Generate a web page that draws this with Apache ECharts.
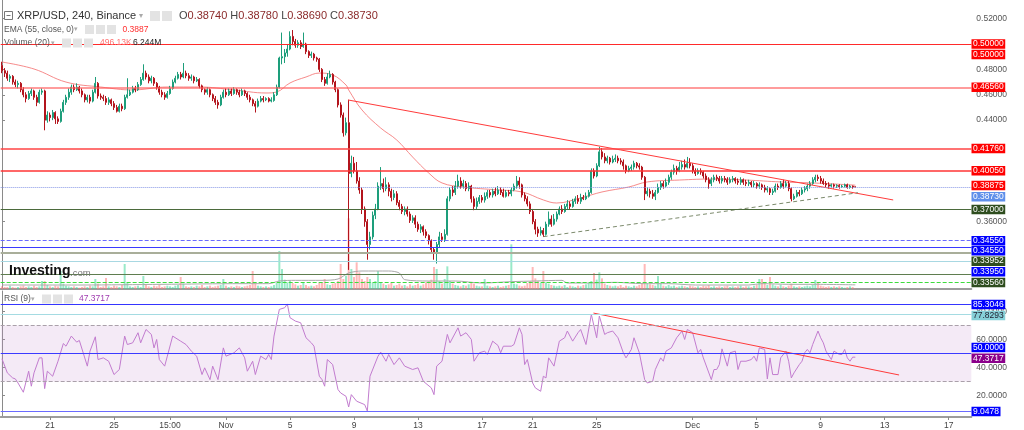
<!DOCTYPE html>
<html><head><meta charset="utf-8">
<script src="https://cdn.jsdelivr.net/npm/echarts@6/dist/echarts.min.js"></script>
<style>html,body{margin:0;padding:0;background:#fff}#c{width:1024px;height:430px}</style>
</head><body><div id="c"></div>
<script>
// ---------------- DATA ----------------
const N_SLOTS = 364; // 4h slots on the time axis (incl. empty future space)
const tickLabels = {18:'21',42:'25',63:'15:00',84:'Nov',108:'5',132:'9',156:'13',180:'17',199:'21',223:'25',259:'Dec',283:'5',307:'9',331:'13',355:'17'};
// [open, close, low, high]
const ohlc = [
[.4830,.4790,.4770,.4860],[.4790,.4770,.4740,.4810],[.4770,.4730,.4710,.4790],[.4730,.4745,.4700,.4760],[.4745,.4700,.4680,.4755],
[.4700,.4680,.4660,.4720],[.4680,.4690,.4650,.4710],[.4690,.4640,.4620,.4700],[.4640,.4600,.4580,.4660],[.4600,.4570,.4540,.4620],
[.4570,.4610,.4560,.4630],[.4610,.4630,.4590,.4650],[.4630,.4580,.4560,.4640],[.4580,.4540,.4510,.4600],[.4540,.4620,.4530,.4640],
[.4620,.4630,.4600,.4650],[.4630,.4400,.4320,.4640],[.4400,.4440,.4380,.4470],[.4440,.4420,.4390,.4460],[.4420,.4460,.4400,.4480],
[.4460,.4410,.4370,.4470],[.4410,.4390,.4370,.4430],[.4390,.4470,.4380,.4490],[.4470,.4540,.4460,.4560],[.4540,.4580,.4520,.4600],
[.4580,.4620,.4560,.4650],[.4620,.4660,.4600,.4680],[.4660,.4640,.4620,.4680],[.4640,.4660,.4630,.4690],[.4660,.4630,.4610,.4670],
[.4630,.4600,.4580,.4650],[.4600,.4560,.4540,.4610],[.4560,.4580,.4540,.4600],[.4580,.4550,.4530,.4600],[.4550,.4620,.4540,.4640],
[.4620,.4690,.4610,.4740],[.4690,.4590,.4570,.4700],[.4590,.4580,.4560,.4610],[.4580,.4570,.4550,.4600],[.4570,.4540,.4520,.4590],
[.4540,.4560,.4520,.4580],[.4560,.4530,.4510,.4570],[.4530,.4500,.4480,.4550],[.4500,.4470,.4460,.4520],[.4470,.4510,.4460,.4530],
[.4510,.4490,.4470,.4530],[.4490,.4580,.4480,.4600],[.4580,.4600,.4570,.4730],[.4600,.4620,.4590,.4640],[.4620,.4650,.4610,.4670],
[.4650,.4640,.4620,.4670],[.4640,.4680,.4630,.4700],[.4680,.4720,.4670,.4740],[.4720,.4770,.4710,.4840],[.4770,.4740,.4720,.4790],
[.4740,.4710,.4690,.4760],[.4710,.4730,.4690,.4750],[.4730,.4690,.4670,.4740],[.4690,.4660,.4640,.4700],[.4660,.4620,.4600,.4670],
[.4620,.4600,.4580,.4640],[.4600,.4580,.4560,.4620],[.4580,.4610,.4570,.4630],[.4610,.4650,.4600,.4670],[.4650,.4700,.4640,.4720],
[.4700,.4730,.4690,.4750],[.4730,.4760,.4720,.4780],[.4760,.4740,.4720,.4780],[.4740,.4770,.4730,.4850],[.4770,.4750,.4730,.4790],
[.4750,.4730,.4710,.4770],[.4730,.4740,.4710,.4760],[.4740,.4710,.4690,.4750],[.4710,.4720,.4700,.4740],[.4720,.4670,.4650,.4730],
[.4670,.4640,.4620,.4680],[.4640,.4620,.4600,.4650],[.4620,.4640,.4600,.4660],[.4640,.4600,.4580,.4650],[.4600,.4570,.4550,.4610],
[.4570,.4540,.4520,.4590],[.4540,.4520,.4490,.4560],[.4520,.4580,.4510,.4600],[.4580,.4620,.4570,.4640],[.4620,.4600,.4580,.4650],
[.4600,.4630,.4590,.4650],[.4630,.4610,.4590,.4650],[.4610,.4640,.4600,.4660],[.4640,.4620,.4600,.4650],[.4620,.4600,.4580,.4640],
[.4600,.4630,.4590,.4650],[.4630,.4610,.4590,.4640],[.4610,.4580,.4560,.4620],[.4580,.4560,.4540,.4600],[.4560,.4530,.4510,.4570],
[.4530,.4510,.4460,.4550],[.4510,.4550,.4500,.4570],[.4550,.4570,.4540,.4590],[.4570,.4560,.4540,.4590],[.4560,.4570,.4550,.4580],
[.4570,.4550,.4540,.4580],[.4550,.4560,.4540,.4580],[.4555,.4600,.4545,.4620],[.4600,.4660,.4590,.4680],[.4660,.4890,.4650,.4900],
[.4890,.4900,.4840,.5090],[.4900,.4930,.4850,.4960],[.4930,.4960,.4900,.5000],[.4960,.5060,.4950,.5100],[.5060,.5020,.4990,.5110],
[.5020,.4990,.4970,.5040],[.4990,.5010,.4970,.5030],[.5010,.4980,.4960,.5030],[.4980,.5000,.4970,.5090],[.5000,.4940,.4920,.5010],
[.4940,.4910,.4890,.4950],[.4910,.4920,.4890,.4940],[.4920,.4890,.4870,.4930],[.4890,.4880,.4860,.4900],[.4880,.4800,.4780,.4890],
[.4800,.4720,.4700,.4810],[.4720,.4690,.4670,.4740],[.4690,.4740,.4680,.4770],[.4740,.4760,.4730,.4790],[.4760,.4700,.4680,.4770],
[.4700,.4640,.4620,.4710],[.4640,.4520,.4500,.4650],[.4520,.4440,.4420,.4540],[.4440,.4300,.4270,.4460],[.4300,.4380,.4280,.4420],
[.4380,.3980,.3220,.4560],[.3980,.4060,.3950,.4120],[.4060,.4000,.3980,.4110],[.4000,.3920,.3900,.4070],[.3920,.3850,.3820,.3950],
[.3850,.3700,.3660,.3870],[.3700,.3600,.3560,.3720],[.3600,.3420,.3300,.3620],[.3420,.3480,.3380,.3520],[.3480,.3650,.3460,.3680],
[.3650,.3700,.3620,.3740],[.3700,.3880,.3690,.3910],[.3880,.3900,.3850,.4030],[.3900,.3860,.3830,.3940],[.3860,.3890,.3840,.3950],
[.3890,.3840,.3800,.3910],[.3840,.3790,.3760,.3860],[.3790,.3820,.3770,.3850],[.3820,.3750,.3730,.3840],[.3750,.3720,.3690,.3770],
[.3720,.3680,.3660,.3740],[.3680,.3700,.3650,.3720],[.3700,.3660,.3640,.3720],[.3660,.3610,.3590,.3680],[.3610,.3630,.3590,.3650],
[.3630,.3580,.3550,.3650],[.3580,.3540,.3520,.3600],[.3540,.3560,.3510,.3580],[.3560,.3520,.3490,.3570],[.3520,.3490,.3470,.3540],
[.3490,.3450,.3420,.3500],[.3450,.3380,.3350,.3460],[.3380,.3350,.3300,.3400],[.3350,.3420,.3270,.3440],[.3420,.3480,.3400,.3520],
[.3480,.3460,.3440,.3510],[.3460,.3500,.3440,.3540],[.3500,.3780,.3490,.3800],[.3780,.3850,.3760,.3870],[.3850,.3830,.3800,.3880],
[.3830,.3880,.3810,.3920],[.3880,.3920,.3860,.3970],[.3920,.3880,.3860,.3950],[.3880,.3900,.3860,.3930],[.3900,.3860,.3840,.3920],
[.3860,.3880,.3840,.3910],[.3880,.3780,.3750,.3890],[.3780,.3720,.3690,.3800],[.3720,.3760,.3700,.3790],[.3760,.3790,.3740,.3810],
[.3790,.3770,.3750,.3810],[.3770,.3800,.3750,.3830],[.3800,.3830,.3780,.3850],[.3830,.3810,.3790,.3850],[.3810,.3840,.3790,.3860],
[.3840,.3820,.3800,.3870],[.3820,.3850,.3810,.3880],[.3850,.3830,.3810,.3870],[.3830,.3800,.3790,.3860],[.3800,.3830,.3790,.3850],
[.3830,.3820,.3800,.3850],[.3820,.3850,.3800,.3870],[.3850,.3880,.3840,.3900],[.3880,.3920,.3860,.3960],[.3920,.3890,.3860,.3950],
[.3890,.3810,.3790,.3900],[.3810,.3780,.3760,.3830],[.3780,.3740,.3720,.3800],[.3740,.3680,.3660,.3760],[.3680,.3600,.3580,.3700],
[.3600,.3540,.3500,.3620],[.3540,.3510,.3480,.3560],[.3510,.3530,.3490,.3560],[.3530,.3500,.3480,.3550],[.3500,.3580,.3490,.3600],
[.3580,.3620,.3560,.3680],[.3620,.3580,.3560,.3650],[.3580,.3620,.3570,.3660],[.3620,.3660,.3600,.3680],[.3660,.3700,.3650,.3720],
[.3700,.3680,.3660,.3730],[.3680,.3720,.3670,.3740],[.3720,.3740,.3700,.3770],[.3740,.3720,.3700,.3760],[.3720,.3760,.3710,.3780],
[.3760,.3780,.3740,.3800],[.3780,.3760,.3740,.3810],[.3760,.3790,.3740,.3820],[.3790,.3780,.3770,.3810],[.3780,.3800,.3770,.3830],
[.3800,.3830,.3790,.3850],[.3830,.4000,.3820,.4020],[.4000,.3960,.3940,.4020],[.3960,.4040,.3950,.4060],[.4040,.4150,.4030,.4190],
[.4150,.4110,.4090,.4180],[.4110,.4080,.4060,.4140],[.4080,.4100,.4060,.4120],[.4100,.4070,.4050,.4110],[.4070,.4090,.4060,.4120],
[.4090,.4100,.4070,.4130],[.4100,.4080,.4060,.4120],[.4080,.4070,.4050,.4100],[.4070,.4040,.4010,.4090],[.4040,.4000,.3980,.4050],
[.4000,.4020,.3990,.4040],[.4020,.4030,.4000,.4050],[.4030,.4060,.4010,.4080],[.4060,.4040,.4020,.4070],[.4040,.4030,.4010,.4060],
[.4030,.3950,.3930,.4040],[.3950,.3820,.3770,.3960],[.3820,.3840,.3800,.3870],[.3840,.3820,.3790,.3860],[.3820,.3800,.3780,.3850],
[.3800,.3830,.3770,.3850],[.3830,.3870,.3820,.3900],[.3870,.3900,.3850,.3920],[.3900,.3880,.3860,.3920],[.3880,.3910,.3870,.3940],
[.3910,.3950,.3890,.3970],[.3950,.3990,.3930,.4010],[.3990,.4020,.3970,.4050],[.4020,.4000,.3970,.4040],[.4000,.4030,.3990,.4070],
[.4030,.4050,.4010,.4080],[.4050,.4030,.4010,.4090],[.4030,.4060,.4020,.4110],[.4060,.4040,.4020,.4100],[.4040,.4000,.3980,.4060],
[.4000,.3980,.3960,.4020],[.3980,.4000,.3970,.4020],[.4000,.3990,.3970,.4020],[.3990,.3960,.3940,.4000],[.3960,.3930,.3910,.3980],
[.3930,.3900,.3860,.3950],[.3900,.3930,.3880,.3950],[.3930,.3950,.3910,.3970],[.3950,.3940,.3920,.3970],[.3940,.3920,.3900,.3960],
[.3920,.3940,.3900,.3960],[.3940,.3930,.3910,.3960],[.3930,.3910,.3890,.3950],[.3910,.3930,.3900,.3950],[.3930,.3940,.3910,.3960],
[.3940,.3920,.3900,.3950],[.3920,.3910,.3890,.3940],[.3910,.3930,.3890,.3950],[.3930,.3910,.3890,.3940],[.3910,.3900,.3880,.3930],
[.3900,.3910,.3880,.3930],[.3910,.3890,.3870,.3920],[.3890,.3900,.3870,.3920],[.3900,.3880,.3860,.3910],[.3880,.3890,.3860,.3910],
[.3890,.3870,.3850,.3900],[.3870,.3850,.3830,.3890],[.3850,.3860,.3830,.3880],[.3860,.3830,.3810,.3870],[.3830,.3840,.3810,.3860],
[.3840,.3880,.3830,.3900],[.3880,.3870,.3850,.3900],[.3870,.3900,.3860,.3920],[.3900,.3880,.3860,.3930],[.3880,.3900,.3870,.3920],
[.3900,.3860,.3840,.3920],[.3860,.3780,.3760,.3870],[.3780,.3800,.3770,.3820],[.3800,.3830,.3790,.3850],[.3830,.3820,.3800,.3850],
[.3820,.3850,.3810,.3870],[.3850,.3860,.3830,.3880],[.3860,.3880,.3840,.3900],[.3880,.3900,.3860,.3920],[.3900,.3930,.3890,.3950],
[.3930,.3950,.3910,.3970],[.3950,.3940,.3920,.3970],[.3940,.3920,.3900,.3960],[.3920,.3900,.3890,.3940],[.3900,.3890,.3870,.3920],
[.3890,.3880,.3860,.3910],[.3880,.3890,.3870,.3900],[.3890,.3880,.3860,.3900],[.3880,.3885,.3865,.3895],[.3885,.3875,.3860,.3895],
[.3875,.3880,.3865,.3890],[.3880,.3890,.3870,.3900],[.3890,.3870,.3860,.3900],[.3870,.3880,.3860,.3890],[.3880,.3874,.3860,.3885],
[.3874,.3873,.3869,.3878]
];
// volume, millions
const volume = [
4,3,3,5,3,2,3,4,5,3, 4,3,5,3,4,12,12,6,4,3, 5,4,27,8,5,4,3,4,3,2, 3,4,3,5,4,15,8,3,4,16.5,
4,3,5,4,3,6,37.5,10,4,3, 4,5,3,19.5,6,4,3,5,4,6, 3,4,5,4,3,5,6,18,8,4, 3,4,3,5,4,6,3,4,5,3,
4,5,6,15,5,3,4,3,5,4, 3,4,5,6,27,9,5,4,3,4, 3,4,6,9,57,30,14,10,12,9, 7,5,6,10,6,4,5,4,6,9,
10,15,7,6,8,9,12,37.5,15,20, 106,30,18,40,25,15,12,18,15,10, 12,27,10,8,6,7,9,5,6,8, 5,6,4,7,5,6,8,5,7,10,
12,14,33,30,12,8,15,34,12,8, 6,5,4,6,5,7,9,8,5,4, 4,15,5,4,3,4,5,3,4,5, 6,67,8,7,5,4,5,9,12,33,
16,12,9,27,10,8,6,5,4,5, 4,6,3,5,4,3,5,4,6,7, 9,12,24,14,25,16,8,6,5,4, 5,4,6,3,5,4,3,5,4,6,
9,37.5,8,7,6,5,19.5,8,5,4, 6,4,5,3,4,5,4,3,5,4, 3,4,3,5,4,6,3,4,3,4, 3,4,5,3,4,3,4,5,3,4,
4,3,5,6,15,15,9,6,18,7, 5,4,6,4,3,5,8,4,3,4, 3,4,5,4,6,13.5,9,5,4,3, 4,3,4,3,4,3,2,3,4,3,0.496
];
const volumeMA = [[0,6],[30,6],[60,7],[90,8],[100,8],[104,12],[110,13],[120,13],[126,15],[130,24],[135,27],[145,27],[149,24],[151,14],[160,12],[170,12],[180,9],[191,11],[200,12],[210,13],[212,9],[220,9],[230,10],[240,8],[250,8],[260,6],[280,6],[285,8],[295,7],[305,7],[320,6.244]];
const ema = [[0,.4858],[12,.4803],[24,.4700],[37,.4661],[49,.4638],[62,.4661],[74,.4661],[87,.4638],[99,.4614],[103,.4622],[108,.4693],[114,.4740],[119,.4771],[124,.4756],[129,.4677],[130,.4638],[135,.4480],[142,.4338],[148,.4244],[154,.4109],[160,.3984],[165,.3905],[173,.3873],[186,.3850],[195,.3834],[203,.3771],[208,.3747],[217,.3787],[225,.3834],[235,.3873],[242,.3913],[254,.3928],[267,.3936],[279,.3928],[292,.3913],[304,.3905],[320,.38875]];
const rsi = [[0,46.2],[2,36.2],[4,32.6],[5,31.9],[6,29],[8,22.4],[10,37.4],[11,26.7],[12,36.2],[14,46.9],[15,46.9],[16,25],[17,37.4],[19,33.8],[21,44.5],[23,57.1],[24,55.2],[26,62.4],[28,58.1],[29,59.3],[32,41],[33,51.7],[35,61.9],[36,45.7],[38,46.9],[40,44.5],[42,35],[44,38.6],[46,62.4],[47,56.4],[49,57.6],[51,64.8],[52,57.6],[54,67.1],[56,63.6],[57,54],[58,60],[59,45.7],[61,41],[62,48.1],[64,62.4],[67,58.8],[69,56.4],[71,51.7],[73,48.1],[75,35],[76,39.8],[78,31.4],[79,41],[81,31.4],[83,54],[84,48.1],[87,50.5],[89,54],[91,46.9],[92,37.4],[94,44.5],[95,35],[97,48.1],[99,45.7],[100,49.3],[101,45.7],[102,62.4],[104,81.4],[106,82.6],[107,85.3],[108,75.5],[110,73.1],[112,71.9],[114,61.2],[116,57.6],[117,55.2],[119,33.8],[120,31.4],[121,26.7],[122,45.7],[124,42.1],[126,24.3],[127,21.9],[129,19.5],[130,11.9],[131,20.7],[133,16],[136,13.6],[137,9.05],[138,33.8],[141,48.1],[142,51],[144,44.5],[145,49.3],[147,42.1],[149,46.9],[151,41],[154,38.6],[156,39.8],[158,30.2],[161,25.5],[162,20.7],[163,41],[165,44.5],[167,63.6],[168,57.6],[171,68.3],[172,62.4],[174,64.8],[176,60],[177,44.5],[179,50.5],[181,51.7],[182,49.3],[184,58.8],[186,55.7],[187,50.5],[188,55.2],[191,55.2],[192,56.4],[194,68.3],[195,63.6],[196,42.1],[197,45.7],[199,29],[200,25.5],[202,23.1],[203,33.8],[204,32.6],[205,46.9],[207,41],[209,58.8],[211,61.2],[212,66],[214,58.8],[216,64.8],[217,67.1],[219,56.4],[221,77.83],[222,69.5],[223,61.2],[224,76.7],[226,63.6],[227,64.8],[229,66],[231,61.2],[233,50.5],[234,46.9],[236,52.9],[237,61.2],[239,50.5],[241,31.4],[242,29],[244,30.2],[245,38.6],[247,46.9],[248,44.5],[249,51.7],[251,54],[253,61.2],[255,66],[256,60],[257,67.1],[259,64.8],[261,50.5],[262,52.9],[263,46.9],[266,31.4],[267,38.6],[268,38.6],[269,42.1],[270,53.3],[272,41],[273,50.5],[275,51.7],[276,38.6],[277,44.5],[279,44.5],[281,45.7],[282,48.1],[283,44.5],[284,54],[286,52.9],[287,31.9],[288,46.9],[289,35],[291,35],[292,46.9],[294,51.7],[295,44.5],[296,32.6],[297,36.2],[299,42.1],[300,44.5],[301,50.5],[302,52.9],[303,50.5],[304,56.4],[306,66],[307,61.2],[308,57.6],[309,51.7],[311,45.7],[312,51.7],[314,49.3],[315,49.3],[316,52.9],[317,46.9],[318,44.5],[319,47.4],[320,47.3717]];
const priceTicks = [0.52, 0.48, 0.46, 0.44, 0.36];
const rsiTicks = [20, 40, 60, 80];
const priceLevels = [0.5000, 0.5000, 0.4656, 0.4176, 0.4005, 0.3700, 0.3455, 0.3455, 0.33952, 0.3395, 0.3356, 0.3290, 0.3188, 0.3125];
const lastClose = 0.3873;
const emaLast = 0.38875;
const rsiLevels = [85.3046, 77.8293, 70, 50, 30, 9.0478];
const rsiLast = 47.3717;
const trendMain = [[129.75, 0.4559], [334.2, 0.3771]];
const trendSupport = [[203.1, 0.3482], [321.0, 0.3828]];
const trendRsi = [[221.8, 78.8], [336.4, 34.7]];
const lastVolumeText = '496.13K', volumeMAText = '6.244M';

// ---------------- STYLE ----------------
const F = '"Liberation Sans", Arial, sans-serif';
const GL = 0.67, GR = 52.67;
const upColor = '#1d9e7b', downColor = '#b3141c';
const levelStyle = [
  {c:'#ff2a2a', w:1, t:'solid', bg:'#ff0000', dy:0},
  {c:null, bg:'#ff0000', dy:10.5},
  {c:'rgba(255,90,90,0.6)', w:2, t:'solid', bg:'#ff0000', dy:-0.5},
  {c:'#ff4545', w:1.5, t:'solid', bg:'#ff0000', dy:0},
  {c:'#ff3535', w:1.5, t:'solid', bg:'#ff0000', dy:0.5},
  {c:'#4b6a3b', w:1, t:'solid', bg:'#2e4d1e', dy:0.5},
  {c:'#6a6aff', w:1, t:'dashed', bg:'#0000ff', dy:0.7},
  {c:null, bg:'#0000ff', dy:10.7},
  {c:'#56704a', w:1, t:'solid', bg:'#2e4d1e', dy:13.5},
  {c:'#3a3aff', w:1, t:'solid', bg:'#0000ff', dy:24},
  {c:'#a9ae9a', w:2, t:'solid', bg:'#2e4d1e', dy:30},
  {c:'#a8d8e2', w:1, t:'solid', bg:null},
  {c:'#5f7d4f', w:1, t:'solid', bg:null},
  {c:'#3ddc3d', w:1, t:'dashed', bg:null}
];
const rsiStyle = [
  {c:'#3535ff', w:1.2, t:'solid', bg:'#0000ff', fg:'#fff', dy:0.5},
  {c:'#a5dbe2', w:1.2, t:'solid', bg:'#86d0d8', fg:'#223', dy:1},
  {c:'#aaa0aa', w:1, t:'dashed', bg:null},
  {c:'#3b3bff', w:1.2, t:'solid', bg:'#0000ff', fg:'#fff', dy:-6},
  {c:'#aaa0aa', w:1, t:'dashed', bg:null},
  {c:'#6a6aff', w:1.2, t:'solid', bg:'#0000ff', fg:'#fff', dy:0.5}
];

const categories = Array.from({length: N_SLOTS}, (_, i) => String(i));
const volData = volume.map((v, i) => ({value: v, itemStyle: {color: ohlc[i][1] >= ohlc[i][0] ? 'rgba(70,215,155,0.55)' : 'rgba(255,125,125,0.55)'}}));

const priceMarkLines = priceLevels.map((v, k) => levelStyle[k].c ? {yAxis: v, lineStyle: {color: levelStyle[k].c, width: levelStyle[k].w, type: levelStyle[k].t}} : null).filter(Boolean);
priceMarkLines.push({yAxis: lastClose, lineStyle: {color: '#8797e6', width: 1, type: 'dotted'}});
const rsiMarkLines = rsiLevels.map((v, k) => ({yAxis: v, lineStyle: {color: rsiStyle[k].c, width: rsiStyle[k].w, type: rsiStyle[k].t}}));

const isTick = (idx) => tickLabels[idx] !== undefined;
const chart = echarts.init(document.getElementById('c'));
chart.setOption({
  animation: false,
  backgroundColor: '#fff',
  grid: [
    {left: GL, right: GR, top: 0, bottom: 141},
    {left: GL, right: GR, top: 200, bottom: 141},
    {left: GL, right: GR, top: 291, bottom: 12}
  ],
  xAxis: [
    {type: 'category', gridIndex: 0, data: categories, axisLine: {show: false}, axisTick: {show: false}, axisLabel: {show: false}, splitLine: {show: false}},
    {type: 'category', gridIndex: 1, data: categories, axisLine: {show: true, lineStyle: {color: '#9c9c9c', width: 2}}, axisTick: {show: false}, axisLabel: {show: false}},
    {type: 'category', gridIndex: 2, data: categories,
      axisLine: {show: true, lineStyle: {color: '#9c9c9c', width: 2}},
      axisTick: {show: true, alignWithLabel: true, length: 3, interval: (i) => isTick(i), lineStyle: {color: '#888'}},
      axisLabel: {interval: (i) => isTick(i), formatter: (v) => tickLabels[v] || '', fontSize: 8.5, fontFamily: F, color: '#444', margin: 4}},
    {type: 'value', gridIndex: 0, min: -0.5, max: N_SLOTS - 0.5, show: false},
    {type: 'value', gridIndex: 2, min: -0.5, max: N_SLOTS - 0.5, show: false}
  ],
  yAxis: [
    {type: 'value', gridIndex: 0, position: 'right', min: 0.30693, max: 0.53467, scale: true, splitLine: {show: false},
      axisLine: {show: true, lineStyle: {color: '#8a8a8a'}},
      axisTick: {show: true, customValues: priceTicks, length: 3, lineStyle: {color: '#8a8a8a'}},
      axisLabel: {customValues: priceTicks, formatter: (v) => v.toFixed(5), fontSize: 8.5, fontFamily: F, color: '#555', margin: 5}},
    {type: 'value', gridIndex: 1, min: 0, max: 133.5, show: false, splitLine: {show: false}},
    {type: 'value', gridIndex: 2, position: 'right', min: 4.77, max: 94.52, splitLine: {show: false},
      axisLine: {show: true, lineStyle: {color: '#8a8a8a'}},
      axisTick: {show: true, customValues: rsiTicks, length: 3, lineStyle: {color: '#8a8a8a'}},
      axisLabel: {customValues: rsiTicks, formatter: (v) => v.toFixed(4), fontSize: 8.5, fontFamily: F, color: '#555', margin: 5}}
  ],
  series: [
    {type: 'bar', xAxisIndex: 1, yAxisIndex: 1, data: volData, barWidth: 2, z: 1, silent: true},
    {type: 'line', xAxisIndex: 1, yAxisIndex: 1, data: volumeMA, symbol: 'none', smooth: 0.3, lineStyle: {color: '#aaaaaa', width: 1}, z: 1, silent: true},
    {type: 'line', xAxisIndex: 0, yAxisIndex: 0, data: ema, symbol: 'none', smooth: 0.4, lineStyle: {color: 'rgba(244,110,110,0.8)', width: 1}, z: 2, silent: true},
    {type: 'candlestick', xAxisIndex: 0, yAxisIndex: 0, data: ohlc, barWidth: 1.8, z: 3, silent: true,
      itemStyle: {color: upColor, color0: downColor, borderColor: upColor, borderColor0: downColor, borderWidth: 1},
      markLine: {silent: true, precision: 5, symbol: ['none', 'none'], label: {show: false}, animation: false, data: priceMarkLines}},
    {type: 'line', xAxisIndex: 3, yAxisIndex: 0, data: trendMain, symbol: 'none', lineStyle: {color: '#ff3b3b', width: 1}, z: 4, silent: true},
    {type: 'line', xAxisIndex: 3, yAxisIndex: 0, data: trendSupport, symbol: 'none', lineStyle: {color: '#7c8a6c', width: 1, type: [4, 3]}, z: 4, silent: true},
    {type: 'line', xAxisIndex: 2, yAxisIndex: 2, data: rsi, symbol: 'none', lineStyle: {color: '#c27ccf', width: 1}, z: 3, silent: true,
      markLine: {silent: true, precision: 5, symbol: ['none', 'none'], label: {show: false}, animation: false, data: rsiMarkLines},
      markArea: {silent: true, itemStyle: {color: 'rgba(200,150,210,0.2)'}, data: [[{yAxis: 30}, {yAxis: 70}]]}},
    {type: 'line', xAxisIndex: 4, yAxisIndex: 2, data: trendRsi, symbol: 'none', lineStyle: {color: '#ff3b3b', width: 1}, z: 4, silent: true}
  ]
});

// ---------------- TEXT / LABEL OVERLAYS ----------------
const els = [];
const T = (x, y, text, font, fill) => els.push({type: 'text', x, y, silent: true, z: 50,
  style: {text, font, fill, verticalAlign: 'middle', align: 'left'}});
const R = (x, y, w, h, fill) => els.push({type: 'rect', silent: true, z: 50, shape: {x, y, width: w, height: h}, style: {fill}});
const box = (y, text, bg, fg) => els.push({type: 'text', x: 971.5, y, silent: true, z: 100,
  style: {text, font: '8.5px ' + F, fill: fg, backgroundColor: bg, padding: [1, 1.5, 0, 1.5], lineHeight: 8.5, verticalAlign: 'middle', align: 'left'}});

// header
els.push({type: 'rect', silent: true, z: 50, shape: {x: 4.5, y: 11.5, width: 8, height: 8}, style: {fill: 'none', stroke: '#777', lineWidth: 1}});
els.push({type: 'line', silent: true, z: 50, shape: {x1: 6.5, y1: 15.5, x2: 10.5, y2: 15.5}, style: {stroke: '#777', lineWidth: 1}});
T(17, 16, 'XRP/USD, 240, Binance', '11px ' + F, '#333');
T(139, 16, '▾', '8px ' + F, '#aaa');
R(150, 11, 10, 10, '#e3e3e3'); R(162, 11, 10, 10, '#e3e3e3');
const last = ohlc[ohlc.length - 1];
const f5 = (v) => v.toFixed(5);
els.push({type: 'text', x: 179, y: 16, silent: true, z: 50, style: {
  text: '{k|O}{v|' + f5(last[0]) + '} {k|H}{v|' + f5(last[3]) + '} {k|L}{v|' + f5(last[2]) + '} {k|C}{v|' + f5(last[1]) + '}',
  font: '11px ' + F, verticalAlign: 'middle', align: 'left',
  rich: {k: {fill: '#444', font: '11px ' + F}, v: {fill: '#8b2a2a', font: '11px ' + F}}}});
T(4, 29.5, 'EMA (55, close, 0)', '8.5px ' + F, '#555');
T(74, 29.5, '▾', '7px ' + F, '#aaa');
R(85, 25, 9, 9, '#e3e3e3'); R(96, 25, 9, 9, '#e3e3e3'); R(107, 25, 9, 9, '#e3e3e3');
T(122.5, 29.5, emaLast.toFixed(4), '8.5px ' + F, '#ff2f2f');
T(4, 43, 'Volume (20)', '8.5px ' + F, '#555');
T(51, 43, '▾', '7px ' + F, '#aaa');
R(62, 38.5, 9, 9, '#e3e3e3'); R(73, 38.5, 9, 9, '#e3e3e3'); R(84, 38.5, 9, 9, '#e3e3e3');
T(100, 43, lastVolumeText, '8.5px ' + F, '#ff7272');
T(133, 43, volumeMAText, '8.5px ' + F, '#222');
T(4, 299, 'RSI (9)', '8.5px ' + F, '#555');
T(31, 299, '▾', '7px ' + F, '#aaa');
R(42, 294.5, 9, 9, '#e3e3e3'); R(53, 294.5, 9, 9, '#e3e3e3'); R(64, 294.5, 9, 9, '#e3e3e3');
T(79, 299, rsiLast.toFixed(4), '8.5px ' + F, '#a03cb0');
// watermark
T(9, 271, 'Investing', 'bold 14px ' + F, '#111');
T(70, 273, '.com', '9.5px ' + F, '#777');

// price-scale label boxes
priceLevels.forEach((v, k) => {
  const s = levelStyle[k];
  if (!s.bg) return;
  box(chart.convertToPixel({yAxisIndex: 0}, v) + s.dy, f5(v), s.bg, '#fff');
});
box(chart.convertToPixel({yAxisIndex: 0}, emaLast) + 0.4, f5(emaLast), '#ff0000', '#fff');
box(chart.convertToPixel({yAxisIndex: 0}, lastClose) + 9.7, f5(lastClose), '#5f8fea', '#fff');
rsiLevels.forEach((v, k) => {
  const s = rsiStyle[k];
  if (!s.bg) return;
  box(chart.convertToPixel({yAxisIndex: 2}, v) + s.dy, v.toFixed(4), s.bg, s.fg);
});
box(chart.convertToPixel({yAxisIndex: 2}, rsiLast) + 1, rsiLast.toFixed(4), '#8b008b', '#fff');

chart.setOption({graphic: {elements: els}});
</script>
</body></html>
